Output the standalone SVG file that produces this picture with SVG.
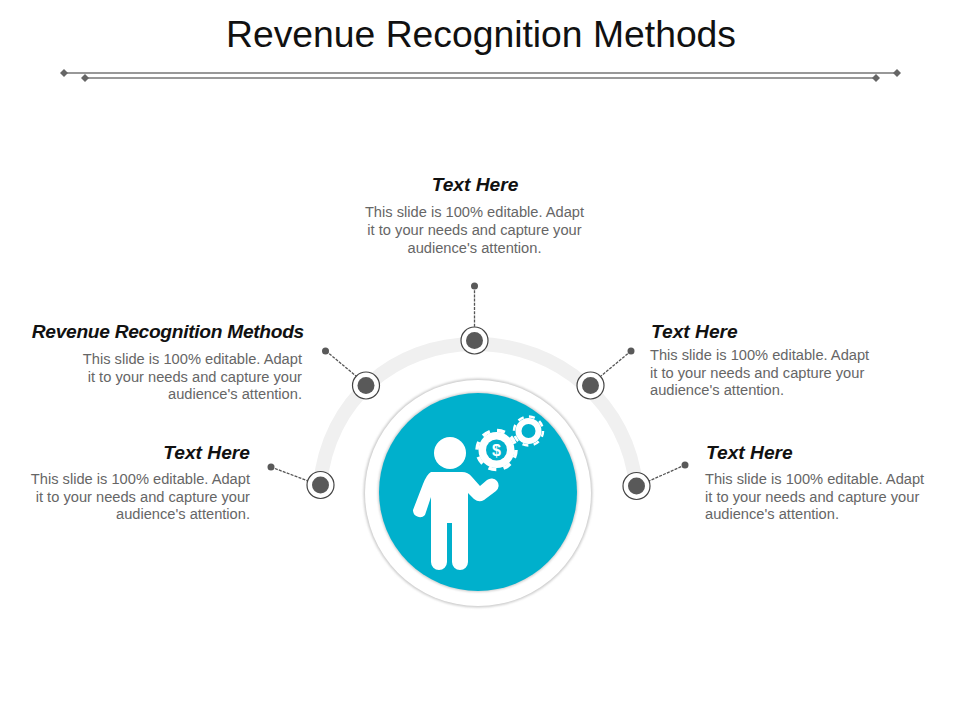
<svg xmlns="http://www.w3.org/2000/svg" width="960" height="720" viewBox="0 0 960 720">
<defs>
<style>
text{font-family:"Liberation Sans",Arial,sans-serif}
.title{font-size:37.300px;fill:#111;text-anchor:middle}
.h{font-size:19.200px;font-weight:bold;font-style:italic;fill:#111}
.b{font-size:14.670px;fill:#666}
.rule{stroke:#777;stroke-width:1.3;fill:none}
.dia{fill:#666}
.dash{stroke:#555;stroke-width:1.3;stroke-dasharray:3 1.200;fill:none}
.dot{fill:#595959}
.ring{fill:#fff;stroke:#444;stroke-width:1.2}
.e{text-anchor:end}
.m{text-anchor:middle}
.w{fill:#fff}
.t{fill:#00b0cc}
</style>
<filter id="sh" x="-10%" y="-10%" width="120%" height="120%"><feGaussianBlur stdDeviation="1.2"/></filter>
</defs>
<g id="title"><text class="title" x="481" y="47">Revenue Recognition Methods</text></g>
<g id="rules">
<path class="rule" d="M64 73H897M85 78H876"/>
<path class="dia" d="M64 69l4 4-4 4-4-4zM85 74l4 4-4 4-4-4zM876 74l4 4-4 4-4-4zM897 69l4 4-4 4-4-4z"/>
</g>
<g id="arc"><path d="M320 485C328 400 395 344 475 344C560 344 628 405 636 486" fill="none" stroke="#f0f0f0" stroke-width="14"/></g>
<g id="connectors">
<path class="dash" d="M474.500 286V327"/>
<path class="dash" d="M326 351L356 376"/>
<path class="dash" d="M631 351L601 376"/>
<path class="dash" d="M271 467L308 481"/>
<path class="dash" d="M685 465L649 481"/>
</g>
<g id="hub">
<circle cx="478" cy="493" r="114.500" fill="#ccc" filter="url(#sh)"/>
<circle cx="478" cy="493" r="113" fill="#fff"/>
<circle cx="478" cy="492" r="100" fill="#ccc" filter="url(#sh)"/>
<circle cx="478" cy="492" r="99" class="t"/>
<g id="person" class="w">
<circle cx="450" cy="453" r="16"/>
<path d="M431 472H462Q468 472 472 477L480 486L487 480A7 7 0 0 1 496 491L484 500Q479 503 474 499L468 493V562A8 8 0 0 1 452 562V523H447V562A8 8 0 0 1 431 562V497L425 515A7 7 0 0 1 413 510L423 484Q427 474 431 472Z"/>
</g>
<g id="gears">
<circle cx="496.500" cy="450" r="18" class="w"/>
<circle cx="496.500" cy="450" r="19.500" fill="none" stroke="#fff" stroke-width="3.500" stroke-dasharray="8 7.310"/>
<circle cx="496.500" cy="450" r="10.500" class="t"/>
<text x="496.500" y="456" class="m w" style="font-size:16px;font-weight:bold">$</text>
<circle cx="528.500" cy="431" r="13" class="w"/>
<circle cx="528.500" cy="431" r="14.500" fill="none" stroke="#fff" stroke-width="2.500" stroke-dasharray="6 5.390"/>
<circle cx="528.500" cy="431" r="7" class="t"/>
</g>
</g>
<g id="node-top">
<circle class="dot" cx="474.500" cy="286" r="3.500"/>
<circle class="ring" cx="474.500" cy="340.500" r="13.500"/><circle class="dot" cx="474.500" cy="340.500" r="8.500"/>
<text class="h m" x="475" y="191">Text Here</text>
<text class="b m" x="474.500" y="217">This slide is 100% editable. Adapt</text>
<text class="b m" x="474.500" y="235">it to your needs and capture your</text>
<text class="b m" x="474.500" y="253">audience's attention.</text>
</g>
<g id="node-upper-left">
<circle class="dot" cx="325.500" cy="351" r="3.500"/>
<circle class="ring" cx="366" cy="385.500" r="13.500"/><circle class="dot" cx="366" cy="385.500" r="8.500"/>
<text class="h e" x="304" y="338" style="letter-spacing:-.3px">Revenue Recognition Methods</text>
<text class="b e" x="302" y="364">This slide is 100% editable. Adapt</text>
<text class="b e" x="302" y="382">it to your needs and capture your</text>
<text class="b e" x="302" y="399">audience's attention.</text>
</g>
<g id="node-upper-right">
<circle class="dot" cx="631" cy="351" r="3.500"/>
<circle class="ring" cx="590.500" cy="385.500" r="13.500"/><circle class="dot" cx="590.500" cy="385.500" r="8.500"/>
<text class="h" x="651" y="338">Text Here</text>
<text class="b" x="650" y="360">This slide is 100% editable. Adapt</text>
<text class="b" x="650" y="378">it to your needs and capture your</text>
<text class="b" x="650" y="395">audience's attention.</text>
</g>
<g id="node-lower-left">
<circle class="dot" cx="271" cy="467" r="3.500"/>
<circle class="ring" cx="320.500" cy="485" r="13.500"/><circle class="dot" cx="320.500" cy="485" r="8.500"/>
<text class="h e" x="250" y="459">Text Here</text>
<text class="b e" x="250" y="484">This slide is 100% editable. Adapt</text>
<text class="b e" x="250" y="502">it to your needs and capture your</text>
<text class="b e" x="250" y="519">audience's attention.</text>
</g>
<g id="node-lower-right">
<circle class="dot" cx="685" cy="465" r="3.500"/>
<circle class="ring" cx="636.500" cy="486" r="13.500"/><circle class="dot" cx="636.500" cy="486" r="8.500"/>
<text class="h" x="706" y="459">Text Here</text>
<text class="b" x="705" y="484">This slide is 100% editable. Adapt</text>
<text class="b" x="705" y="502">it to your needs and capture your</text>
<text class="b" x="705" y="519">audience's attention.</text>
</g>
</svg>
